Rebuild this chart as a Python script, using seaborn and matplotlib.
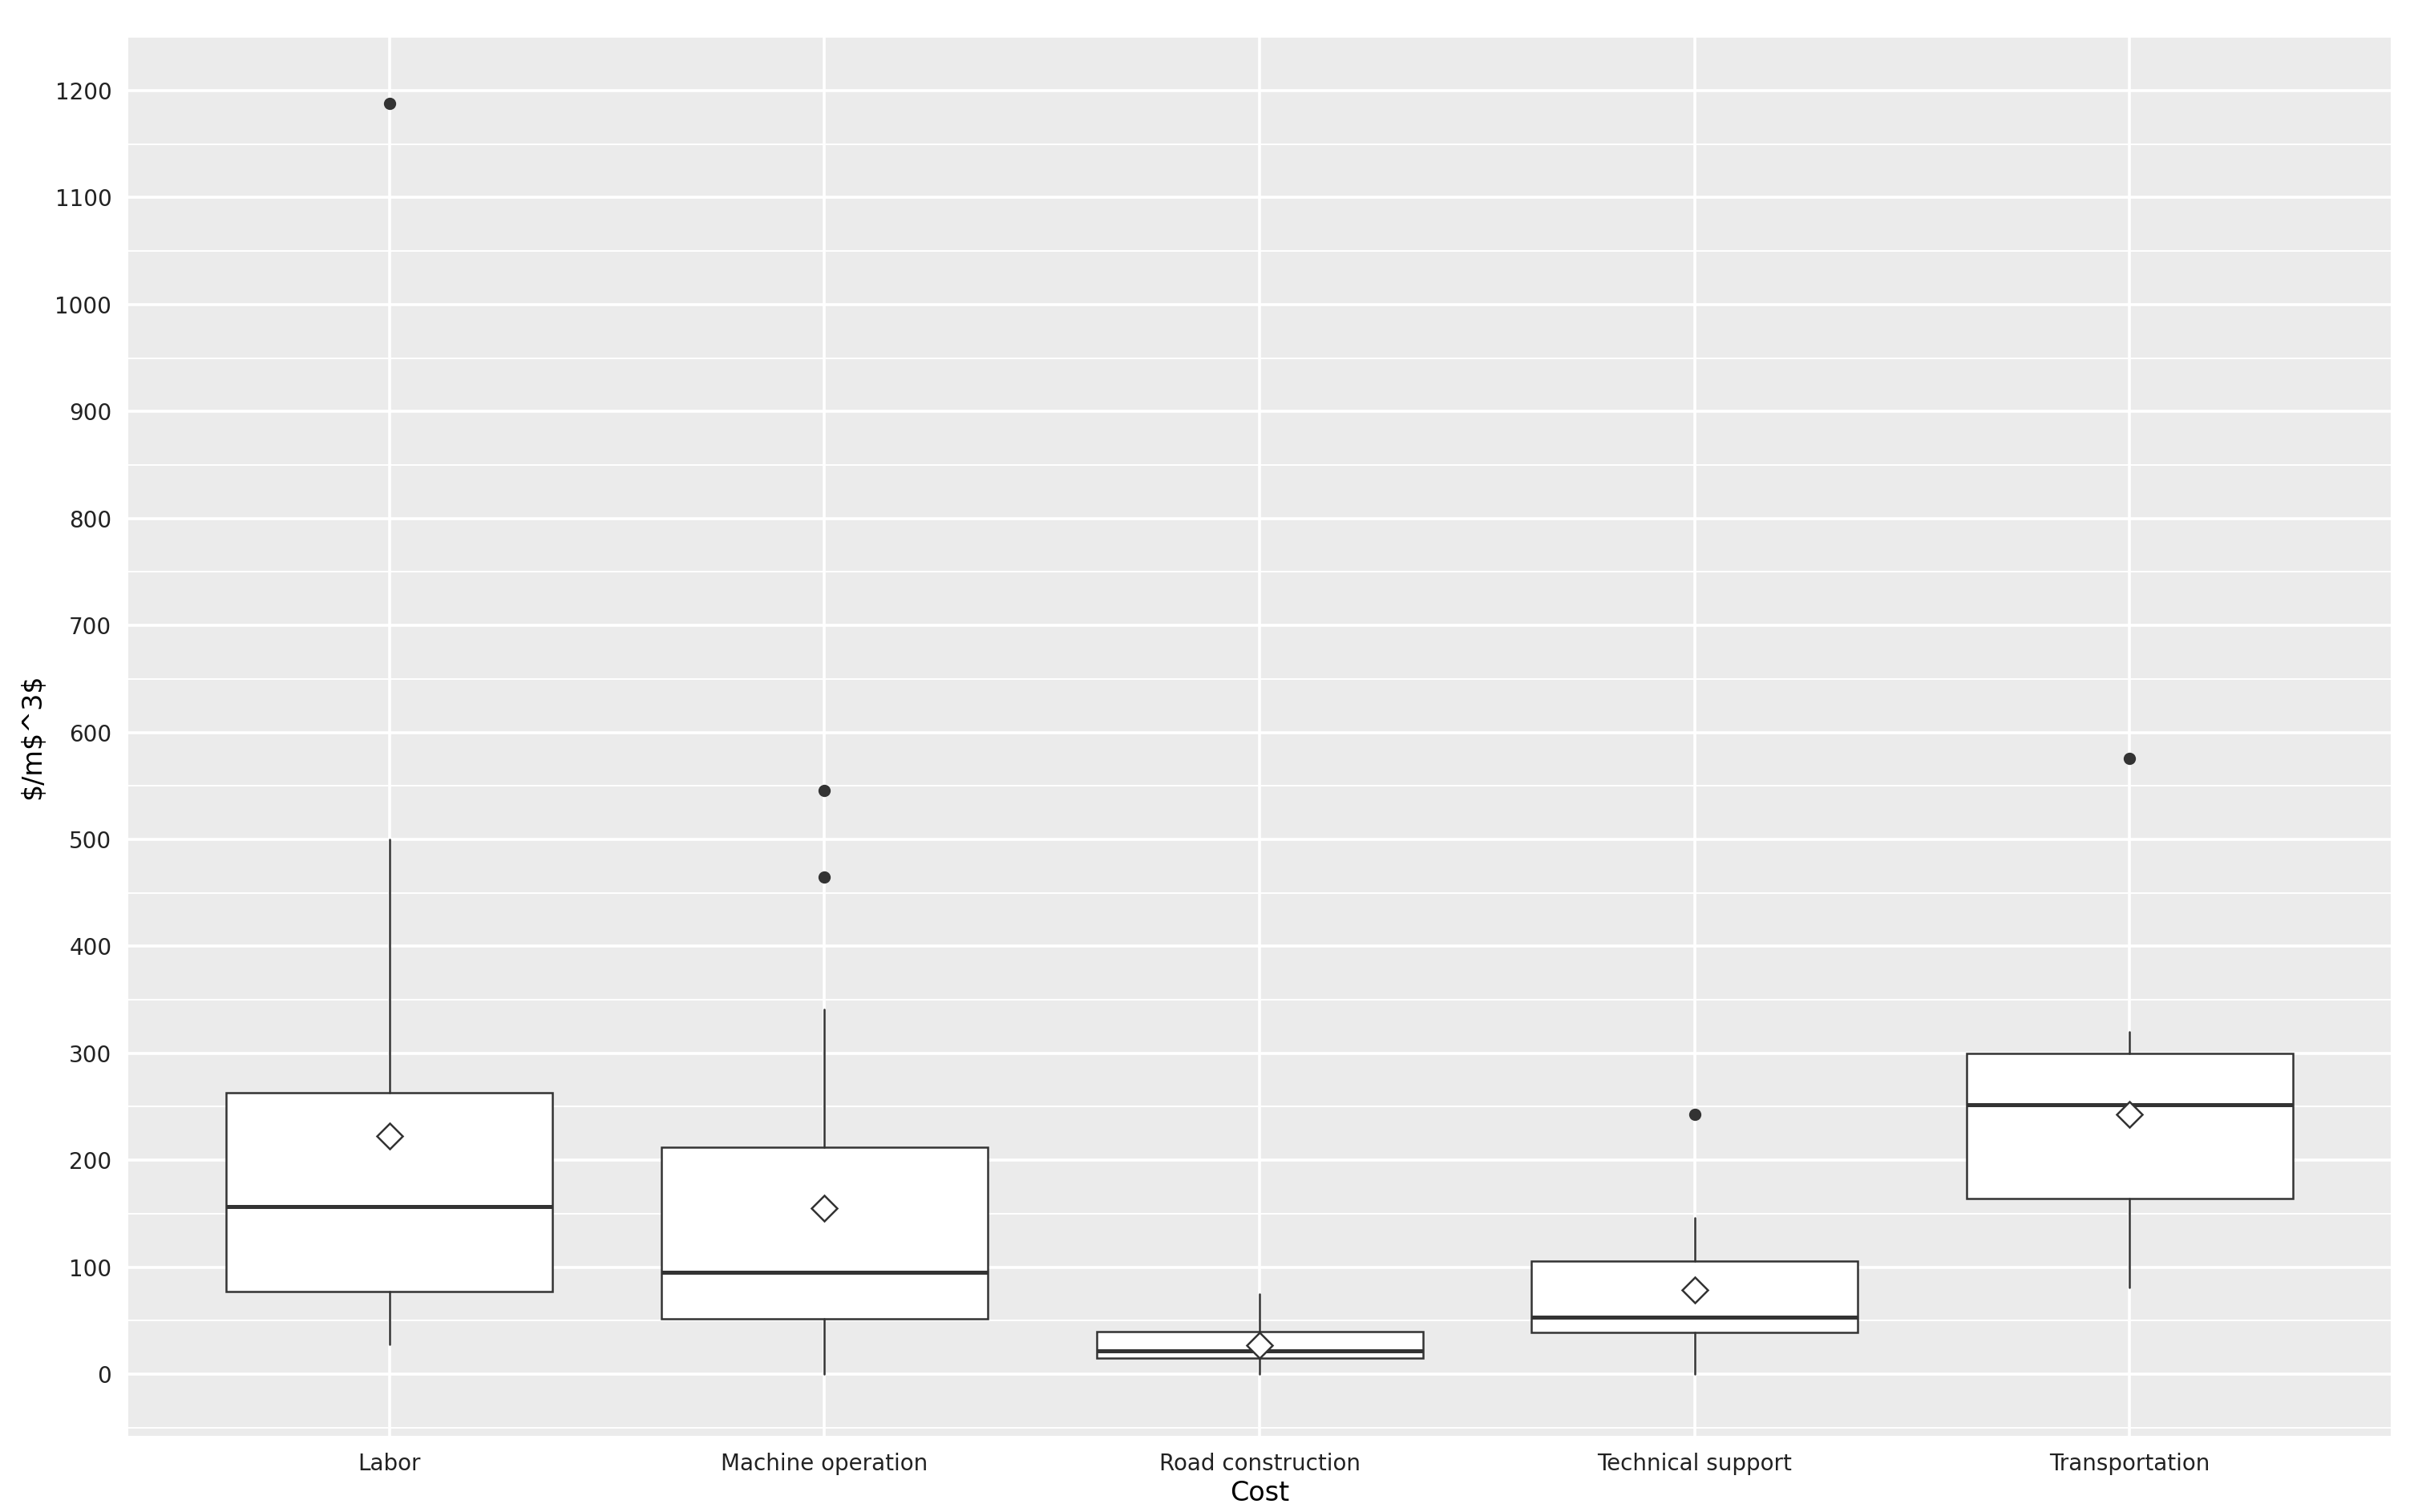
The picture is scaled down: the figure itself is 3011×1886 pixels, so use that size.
import matplotlib
matplotlib.use("Agg")
import matplotlib.pyplot as plt
import seaborn as sns
from matplotlib.ticker import MultipleLocator

categories = ["Labor", "Machine operation", "Road construction", "Technical support", "Transportation"]
whislo = [28, 0, 0, 0, 81]
q1 = [77, 52, 15, 39, 164]
med = [157, 95, 22, 53, 252]
q3 = [263, 212, 40, 106, 300]
whishi = [500, 341, 75, 146, 320]
fliers = [[1188], [465, 546], [], [243], [576]]
means = [223, 155, 27, 79, 243]

sns.set_theme(style="darkgrid", rc={"axes.facecolor": "#EBEBEB", "grid.color": "white"})
plt.rcParams['font.family'] = ['DejaVu Sans']

fig = plt.figure(figsize=(15.055, 9.43), dpi=200)
ax = fig.add_axes([83/1560, 1-928/977, (1545-83)/1560, (928-24)/977])

stats = []
for i, c in enumerate(categories):
    stats.append(dict(label=c, whislo=whislo[i], q1=q1[i], med=med[i], q3=q3[i],
                      whishi=whishi[i], fliers=fliers[i], mean=means[i]))
ax.bxp(stats, positions=range(len(categories)), widths=0.75, patch_artist=True, showcaps=False,
       showmeans=True,
       boxprops=dict(facecolor="white", edgecolor="#333333", linewidth=0.9),
       medianprops=dict(color="#333333", linewidth=1.8),
       whiskerprops=dict(color="#333333", linewidth=0.9),
       flierprops=dict(marker="o", markerfacecolor="#333333", markeredgecolor="#333333", markersize=4.5),
       meanprops=dict(marker="D", markerfacecolor="white", markeredgecolor="#333333", markersize=8, markeredgewidth=0.9))

ax.set_xlim(-0.6, 4.6)
ax.set_ylim(-58, 1250)
ax.yaxis.set_major_locator(MultipleLocator(100))
ax.yaxis.set_minor_locator(MultipleLocator(50))
ax.grid(which="major", color="white", linewidth=1.3)
ax.grid(which="minor", color="white", linewidth=0.7)
ax.tick_params(axis="both", which="major", length=4, color="#333333", labelsize=10, labelcolor="#222222")
ax.tick_params(which="minor", length=0)
for s in ax.spines.values():
    s.set_visible(False)
ax.set_xlabel("Cost", fontsize=12, color="black", labelpad=2)
ax.set_ylabel("$/m$^3$", fontsize=12, color="black")
fig.savefig("out.png", dpi=200)
